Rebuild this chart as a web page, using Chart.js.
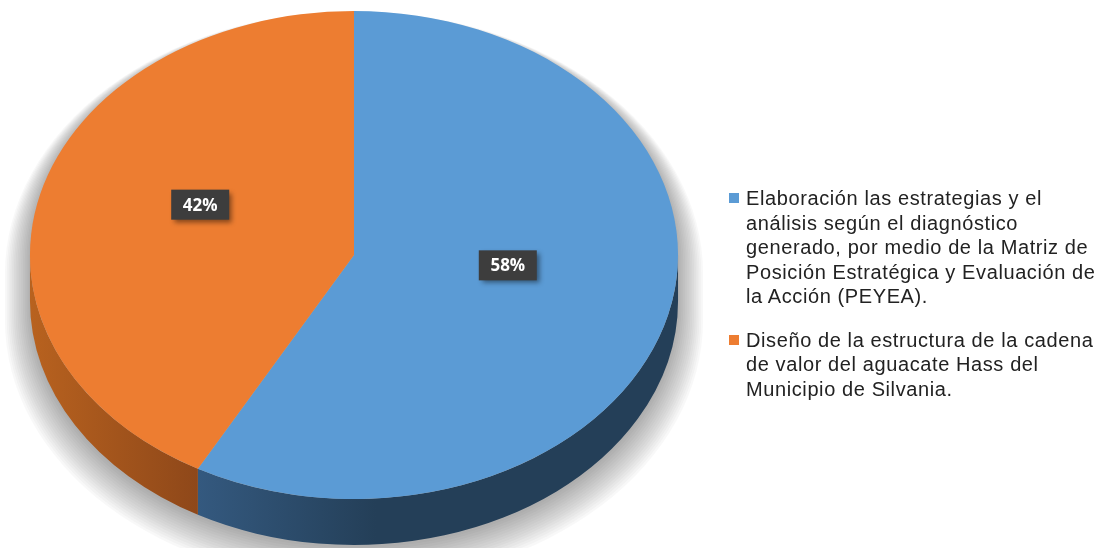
<!DOCTYPE html>
<html lang="es">
<head>
<meta charset="utf-8">
<script src="https://cdn.jsdelivr.net/npm/chart.js@4.4.1/dist/chart.umd.min.js"></script>
<style>
    html, body { margin: 0; padding: 0; background: #fff; }
    #wrap { position: relative; width: 1111px; height: 548px; overflow: hidden; }
    #leyenda {
        position: absolute; left: 729px; top: 186px; width: 382px;
        font-family: "Liberation Sans", Arial, sans-serif; font-size: 20px;
        line-height: 24.5px; color: #222222; letter-spacing: 0.6px;
    }
    .item { position: relative; padding-left: 17px; margin-bottom: 19px; }
    .marca { position: absolute; left: 0; top: 7px; width: 10px; height: 10px; }
</style>
</head>
<body>
<div id="wrap">
    <canvas id="torta" width="1111" height="548"></canvas>
    <div id="leyenda"></div>
</div>
<script>
const categorias = [
    ['Elaboración las estrategias y el', 'análisis según el diagnóstico', 'generado, por medio de la Matriz de', 'Posición Estratégica y Evaluación de', 'la Acción (PEYEA).'],
    ['Diseño de la estructura de la cadena', 'de valor del aguacate Hass del', 'Municipio de Silvania.']
];
const valores = [58, 42];
const coloresTapa = ['#5B9BD5', '#ED7D31'];
const coloresLado = [['#34597f', '#243f58'], ['#b8621f', '#8c4619']];

const escalaX = 1.328;   // achatamiento horizontal de la torta
const grosor = 46;       // altura del canto en 3D

function conEscala(ctx, cx, cy) {
    ctx.translate(cx, cy);
    ctx.scale(escalaX, 1);
    ctx.translate(-cx, -cy);
}

function silueta(ctx, cx, cy, r, dy) {
    ctx.beginPath();
    ctx.arc(cx, cy + dy, r, Math.PI, 0);
    ctx.lineTo(cx + r, cy + dy + grosor);
    ctx.arc(cx, cy + dy + grosor, r, 0, Math.PI);
    ctx.closePath();
}

// canto 3D y sombra, dibujados antes de la tapa
const torta3D = {
    id: 'torta3D',
    beforeDatasetsDraw(chart) {
        const ctx = chart.ctx;
        const arcos = chart.getDatasetMeta(0).data;
        const { x: cx, y: cy, outerRadius: r } = arcos[0];
        ctx.save();
        conEscala(ctx, cx, cy);

        // sombra difusa: capas concéntricas que bajan y crecen
        ctx.fillStyle = 'rgba(0,0,0,0.026)';
        for (let k = 14; k >= 0; k--) {
            silueta(ctx, cx, cy, r + k * 1.35, 3 + k * 1.15);
            ctx.fill();
        }

        arcos.forEach((arco, i) => {
            const a = Math.max(arco.startAngle, 0);
            const b = Math.min(arco.endAngle, Math.PI);
            if (b <= a) return;
            const x1 = cx + r * Math.cos(b);
            const x0 = Math.min(cx + r * Math.cos(a), x1);
            const grad = ctx.createLinearGradient(x0, 0, x0 + r * 0.55, 0);
            grad.addColorStop(0, coloresLado[i][0]);
            grad.addColorStop(1, coloresLado[i][1]);
            ctx.fillStyle = grad;
            ctx.beginPath();
            ctx.arc(cx, cy, r, a, b);
            ctx.lineTo(x1, cy + r * Math.sin(b) + grosor);
            ctx.arc(cx, cy + grosor, r, b, a, true);
            ctx.closePath();
            ctx.fill();
        });

        // la tapa se dibuja con la misma escala
        ctx.restore();
        ctx.save();
        conEscala(ctx, cx, cy);
    },
    afterDatasetsDraw(chart) {
        const ctx = chart.ctx;
        ctx.restore();

        // etiquetas de porcentaje
        const arcos = chart.getDatasetMeta(0).data;
        ctx.save();
        ctx.font = 'bold 17px "Open Sans", sans-serif';
        ctx.textAlign = 'center';
        ctx.textBaseline = 'middle';
        arcos.forEach((arco, i) => {
            const medio = (arco.startAngle + arco.endAngle) / 2;
            const px = arco.x + arco.outerRadius * 0.49 * Math.cos(medio) * escalaX;
            const py = arco.y + arco.outerRadius * 0.5 * Math.sin(medio) - 20;
            const texto = valores[i] + '%';
            const w = 58, h = 30;
            ctx.save();
            ctx.shadowColor = 'rgba(0,0,0,0.45)';
            ctx.shadowBlur = 5;
            ctx.shadowOffsetX = 3;
            ctx.shadowOffsetY = 3;
            ctx.fillStyle = '#3d3d3d';
            ctx.fillRect(px - w / 2, py - h / 2, w, h);
            ctx.restore();
            ctx.fillStyle = '#ffffff';
            ctx.fillText(texto, px, py + 1);
        });
        ctx.restore();
    }
};

const chart = new Chart(document.getElementById('torta'), {
    type: 'pie',
    data: {
        labels: categorias.map(l => l.join(' ')),
        datasets: [{
            data: valores,
            backgroundColor: coloresTapa,
            borderWidth: 0,
            offset: 0,
            hoverOffset: 0
        }]
    },
    options: {
        responsive: false,
        animation: false,
        events: [],
        layout: { padding: { left: 110, right: 513, top: 11, bottom: 49 } },
        plugins: {
            legend: { display: false },
            tooltip: { enabled: false }
        }
    },
    plugins: [torta3D]
});

// leyenda a la derecha
const leyenda = document.getElementById('leyenda');
categorias.forEach((lineas, i) => {
    const item = document.createElement('div');
    item.className = 'item';
    const marca = document.createElement('span');
    marca.className = 'marca';
    marca.style.background = coloresTapa[i];
    item.appendChild(marca);
    lineas.forEach(l => {
        const d = document.createElement('div');
        d.textContent = l;
        item.appendChild(d);
    });
    leyenda.appendChild(item);
});
</script>
</body>
</html>
